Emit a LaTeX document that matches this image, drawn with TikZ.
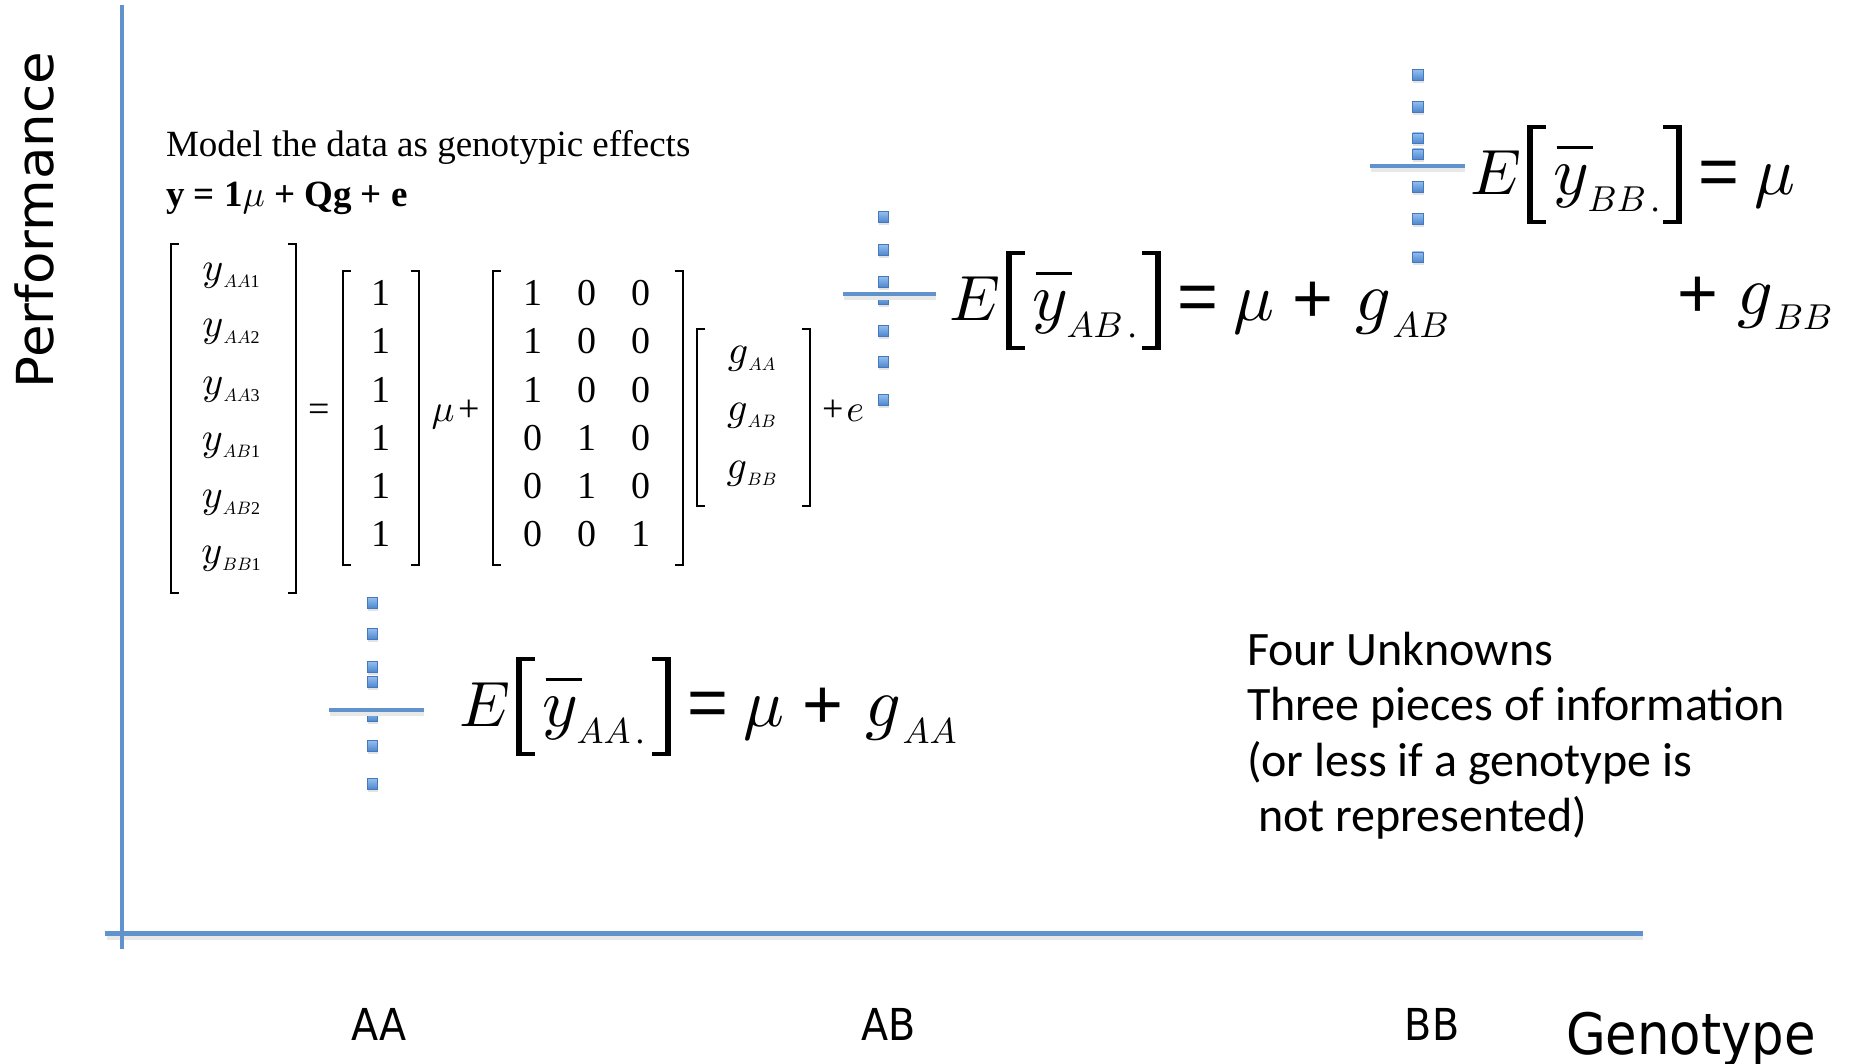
\documentclass[tikz,border=0pt]{standalone}
\usepackage{graphicx}
\usepackage{fontspec}
\setmainfont{Liberation Serif}
\newfontfamily\dvsans[FakeStretch=1.04]{DejaVu Sans}
\newfontfamily\dvcond[FakeStretch=0.9]{DejaVu Sans}
\newfontfamily\lsans{Liberation Sans}
\newfontfamily\carl{Carlito}
\definecolor{axisblue}{RGB}{96,146,203}
\definecolor{sqtop}{RGB}{145,190,238}
\definecolor{sqbot}{RGB}{78,134,206}
\definecolor{sqedge}{RGB}{70,120,188}
\newcommand\fs[1]{\fontsize{#1}{#1}\selectfont}
% math italic at a given scale of 10pt
\newcommand\mi[2]{\scalebox{#1}{\fontsize{10}{10}\selectfont$#2$}}
% thin matrix bracket pair: left, right, top, bottom
\newcommand\mbr[4]{%
  \draw[thinbrk] ({#1+8},#3) -- (#1,#3) -- (#1,#4) -- ({#1+8},#4);
  \draw[thinbrk] ({#2-8},#3) -- (#2,#3) -- (#2,#4) -- ({#2-8},#4);}
% data square with shadow
\newcommand\sqr[2]{%
  \fill[black!11] ({#1-5},{#2-2}) rectangle ({#1+5.5},{#2+8});
  \path[draw=sqedge, line width=0.8pt, top color=sqtop, bottom color=sqbot]
    ({#1-5.3},{#2-5.3}) rectangle ({#1+5.3},{#2+5.3});}
% E[ybar_sub.] = mu   at (x0,b)
\newcommand\expeq[4]{%
  \begin{scope}[shift={(#2,#3)}]
    \node[txt, anchor=base west] (#1E) at (-1,0) {\mi{6.4}{E}};
    \fill (55,-70) rectangle (61,29.5);
    \fill (55,-70) rectangle (74,-66);
    \fill (55,25.5) rectangle (74,29.5);
    \node[txt, anchor=base west] (#1y) at (82,0) {\mi{6.8}{y}};
    \draw[line width=3.3pt] (85,-47.3) -- (121,-47.3);
    \node[txt, anchor=base west, font=\fs{35}] (#1s) at (116,17) {\mi{3.6}{#4}\hspace{5pt}.};
    \fill (204,-70) rectangle (210,29.5);
    \fill (191,-70) rectangle (210,-66);
    \fill (191,25.5) rectangle (210,29.5);
    \node[txt, font=\fs{70}\lsans] (#1eq) at (247,-17) {=};
    \node[txt, anchor=base west] (#1mu) at (283,0) {\mi{6.8}{\mu}};
  \end{scope}}
\newcommand\plusg[4]{%
  \begin{scope}[shift={(#2,#3)}]
    \node[txt, font=\fs{70}\lsans] (#1p) at (362,-18) {+};
    \node[txt, anchor=base west] (#1g) at (405,0) {\mi{7}{g}};
    \node[txt, anchor=base west] (#1gs) at (442,17) {\mi{3.6}{#4}};
  \end{scope}}
\begin{document}
\begin{tikzpicture}[x=1pt,y=-1pt,
  txt/.style={inner sep=0pt, outer sep=0pt},
  axis/.style={draw=axisblue, line width=4.5pt},
  bar/.style={draw=axisblue, line width=4pt},
  shadowline/.style={draw=black!9, line width=4pt},
  thinbrk/.style={line width=1.5pt},
  mtxt/.style={txt, anchor=base, font=\fs{38}},
  vtxt/.style={txt, anchor=base, font=\fs{40}}]
\useasboundingbox (0,0) rectangle (1849,1064);

% axes
\draw[shadowline] (107,937.5) -- (1643,937.5);
\draw[axis] (121.8,5) -- (121.8,949);
\draw[axis] (105,933.3) -- (1643,933.3);

% axis labels
\node[txt, rotate=90, anchor=base, font=\dvsans\fs{51}] (perf) at (53.3,220) {Performance};
\node[txt, anchor=base, font=\dvcond\fs{44}] (lAA) at (379,1040) {AA};
\node[txt, anchor=base, font=\dvcond\fs{44}] (lAB) at (889,1040) {AB};
\node[txt, anchor=base, font=\dvcond\fs{44}] (lBB) at (1432,1040) {BB};
\node[txt, anchor=base west, font=\dvcond\fs{57}] (geno) at (1566,1054) {Genotype};

% model text
\node[txt, anchor=base west, font=\fs{37}] (model) at (166,156.7) {Model the data as genotypic effects};
\node[txt, anchor=base west, font=\fs{37}\bfseries] (modeleq) at (166,206.7)
  {y\hspace{.25em}=\hspace{.25em}1\mi{3.7}{\mu}\hspace{.25em}+\hspace{.25em}Qg\hspace{.25em}+\hspace{.25em}e};

% y vector
\foreach \r/\s/\d [count=\i] in {281/AA/1, 337/AA/2, 394/AA/3, 450/AB/1, 507/AB/2, 563/BB/1}
  \node[vtxt] (y\i) at (231,\r) {\mi{4}{y}\raisebox{-7pt}{\fs{18}\mi{1.8}{\s}\d}};
\mbr{171}{296}{244}{593}
\node[txt, font=\fs{38}] (eqsign) at (319,413) {=};
% ones vector
\foreach \r [count=\i] in {306,354,402,450,498,546}
  \node[mtxt] (one\i) at (380.7,\r) {1};
\mbr{343}{419}{271}{565}
\node[txt, anchor=base west, font=\fs{38}] (muplus) at (431.7,421.7) {\mi{3.8}{\mu}\hspace{4pt}+};
% Q matrix
\foreach \r/\a/\b/\c [count=\i] in {306/1/0/0, 354/1/0/0, 402/1/0/0, 450/0/1/0, 498/0/1/0, 546/0/0/1}{
  \node[mtxt] (q\i a) at (532.7,\r) {\a};
  \node[mtxt] (q\i b) at (586.7,\r) {\b};
  \node[mtxt] (q\i c) at (641,\r) {\c};}
\mbr{493}{683}{271}{565}
% g vector
\foreach \r/\s [count=\i] in {363/AA, 420/AB, 478/BB}
  \node[vtxt] (g\i) at (751.5,\r) {\mi{4}{g}\raisebox{-7pt}{\mi{1.8}{\s}}};
\mbr{697}{810}{329}{506}
\node[txt, anchor=base west, font=\fs{38}] (pluse) at (822,421.7) {+\hspace{3pt}\mi{3.8}{e}};

% data points
\foreach \yy in {603,634,667,682,716,746,784} {\sqr{372.5}{\yy}}
\foreach \yy in {217,250,282,299,331,362,400} {\sqr{883.5}{\yy}}
\foreach \yy in {75,106.7,138.3,154.3,186.7,219,257.3} {\sqr{1418}{\yy}}
\draw[shadowline] (330,714) -- (424,714);
\draw[bar] (329,710) -- (424,710);
\draw[shadowline] (844,298) -- (936,298);
\draw[bar] (843,294) -- (936,294);
\draw[shadowline] (1371,169.7) -- (1465,169.7);
\draw[bar] (1370,165.7) -- (1465,165.7);

% expectation equations
\expeq{aa}{460.7}{726.7}{AA}
\plusg{aa}{460.7}{726.7}{AA}
\expeq{ab}{950.7}{320.7}{AB}
\plusg{ab}{950.7}{320.7}{AB}
\expeq{bb}{1471.7}{195}{BB}
\node[txt, font=\fs{70}\lsans] (bbp) at (1698,297) {+};
\node[txt, anchor=base west] (bbg) at (1737,315) {\mi{7}{g}};
\node[txt, anchor=base west] (bbgs) at (1774,330) {\mi{3.6}{BB}};

% info text
\node[txt, anchor=base west, font=\carl\fs{48}] (t1) at (1247,665) {Four Unknowns};
\node[txt, anchor=base west, font=\carl\fs{48}] (t2) at (1247,720.5) {Three pieces of information};
\node[txt, anchor=base west, font=\carl\fs{48}] (t3) at (1247,776) {(or less if a genotype is};
\node[txt, anchor=base west, font=\carl\fs{48}] (t4) at (1258,831.5) {not represented)};
\end{tikzpicture}
\end{document}
